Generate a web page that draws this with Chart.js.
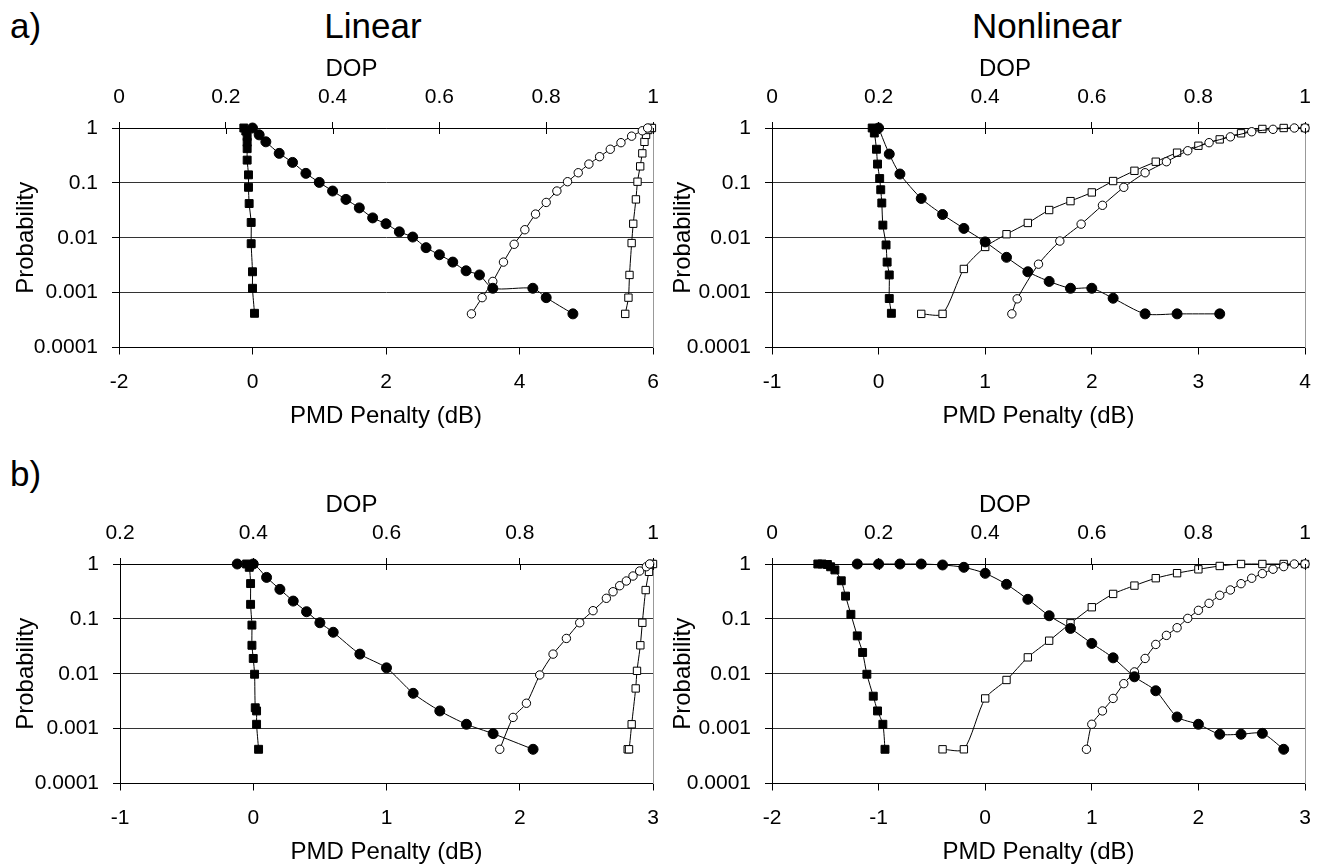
<!DOCTYPE html>
<html>
<head>
<meta charset="utf-8">
<title>PMD penalty and DOP probability</title>
<script src="https://cdn.jsdelivr.net/npm/chart.js@4.4.1/dist/chart.umd.min.js"></script>
<style>
html, body { margin: 0; padding: 0; background: #fff; overflow: hidden; width: 1327px; height: 864px; }
body { position: relative; font-family: "Liberation Sans", Arial, sans-serif; }
canvas { position: absolute; }
.lbl { position: absolute; font-size: 35px; line-height: 1; color: #000; white-space: nowrap; }
.ttl { width: 240px; text-align: center; }
</style>
</head>
<body>
<div class="lbl" style="left:10px;top:8px">a)</div>
<div class="lbl ttl" style="left:253px;top:8px">Linear</div>
<div class="lbl ttl" style="left:927px;top:8px">Nonlinear</div>
<div class="lbl" style="left:10px;top:456px">b)</div>

<canvas id="aLin" width="703" height="400" style="left:0;top:40px"></canvas>
<canvas id="aNl" width="680" height="400" style="left:665px;top:40px"></canvas>
<canvas id="bLin" width="703" height="400" style="left:0;top:476px"></canvas>
<canvas id="bNl" width="680" height="400" style="left:665px;top:476px"></canvas>

<script>
var FONT = '"Liberation Sans", Arial, sans-serif';
Chart.defaults.font.family = FONT;
Chart.defaults.color = '#000';

var probTicks = [0.0001, 0.001, 0.01, 0.1, 1];

// a) linear
var aLinPmdTicks = [-2, 0, 2, 4, 6];
var aLinDopTicks = [0, 0.2, 0.4, 0.6, 0.8, 1];
var aLinSqPmd = [-0.13, -0.1, -0.08, -0.08, -0.08, -0.08, -0.06, -0.06, -0.05, -0.02, -0.02, 0.0, 0.0, 0.03];
var aLinSqProb = [1, 0.88, 0.7, 0.55, 0.42, 0.26, 0.14, 0.083, 0.042, 0.019, 0.0078, 0.0024, 0.0012, 0.00042];
var aLinCircPmd = [0, 0.1, 0.2, 0.4, 0.6, 0.8, 1.0, 1.2, 1.4, 1.6, 1.8, 2.0, 2.2, 2.4, 2.6, 2.8, 3.0, 3.2, 3.4, 3.6, 4.2, 4.4, 4.8];
var aLinCircProb = [1, 0.75, 0.56, 0.345, 0.236, 0.149, 0.102, 0.071, 0.05, 0.035, 0.023, 0.018, 0.0128, 0.0103, 0.0066, 0.0049, 0.0036, 0.0025, 0.0021, 0.0012, 0.0012, 0.00081, 0.00041];
var aLinOpenCircDop = [0.66, 0.68, 0.70, 0.72, 0.74, 0.76, 0.78, 0.80, 0.82, 0.84, 0.86, 0.88, 0.90, 0.92, 0.94, 0.96, 0.98, 0.99];
var aLinOpenCircProb = [0.00041, 0.00081, 0.0016, 0.0036, 0.0076, 0.014, 0.027, 0.044, 0.071, 0.105, 0.153, 0.22, 0.3, 0.41, 0.54, 0.71, 0.89, 1];
var aLinOpenSqDop = [0.948, 0.954, 0.956, 0.960, 0.963, 0.968, 0.971, 0.976, 0.980, 0.984, 0.987, 0.991, 0.996, 0.998];
var aLinOpenSqProb = [0.00041, 0.00081, 0.0021, 0.008, 0.018, 0.05, 0.105, 0.2, 0.345, 0.56, 0.75, 0.92, 1, 1];

// a) nonlinear
var aNlPmdTicks = [-1, 0, 1, 2, 3, 4];
var aNlDopTicks = [0, 0.2, 0.4, 0.6, 0.8, 1];
var aNlSqPmd = [-0.06, -0.04, -0.02, -0.01, 0.01, 0.02, 0.03, 0.04, 0.07, 0.08, 0.10, 0.10, 0.12];
var aNlSqProb = [1, 0.81, 0.41, 0.22, 0.12, 0.075, 0.043, 0.017, 0.0074, 0.0036, 0.0021, 0.00078, 0.00042];
var aNlCircPmd = [0, 0.1, 0.2, 0.4, 0.6, 0.8, 1.0, 1.2, 1.4, 1.6, 1.8, 2.0, 2.2, 2.5, 2.8, 3.2];
var aNlCircProb = [1, 0.335, 0.145, 0.052, 0.0265, 0.0148, 0.0084, 0.0044, 0.0024, 0.0016, 0.0012, 0.0012, 0.00079, 0.00041, 0.00041, 0.00041];
var aNlOpenSqDop = [0.28, 0.32, 0.36, 0.40, 0.44, 0.48, 0.52, 0.56, 0.60, 0.64, 0.68, 0.72, 0.76, 0.80, 0.84, 0.88, 0.92, 0.96, 1.0];
var aNlOpenSqProb = [0.00041, 0.00041, 0.0027, 0.0068, 0.0116, 0.0186, 0.032, 0.0465, 0.067, 0.108, 0.166, 0.243, 0.355, 0.475, 0.62, 0.8, 0.96, 1, 1];
var aNlOpenCircDop = [0.45, 0.46, 0.50, 0.54, 0.58, 0.62, 0.66, 0.70, 0.74, 0.78, 0.82, 0.86, 0.90, 0.94, 0.98, 1.0];
var aNlOpenCircProb = [0.00041, 0.00077, 0.0033, 0.0087, 0.0177, 0.039, 0.083, 0.153, 0.243, 0.385, 0.54, 0.69, 0.855, 0.946, 1, 1];

// b) linear
var bLinPmdTicks = [-1, 0, 1, 2, 3];
var bLinDopTicks = [0.2, 0.4, 0.6, 0.8, 1];
var bLinSqPmd = [-0.05, -0.03, -0.02, -0.02, -0.01, -0.01, 0.0, 0.01, 0.015, 0.025, 0.025, 0.04];
var bLinSqProb = [1, 0.87, 0.44, 0.184, 0.077, 0.033, 0.019, 0.0098, 0.0024, 0.0021, 0.0012, 0.00042];
var bLinCircPmd = [-0.12, 0, 0.1, 0.2, 0.3, 0.4, 0.5, 0.6, 0.8, 1.0, 1.2, 1.4, 1.6, 1.8, 2.1];
var bLinCircProb = [1, 1, 0.57, 0.345, 0.211, 0.135, 0.085, 0.057, 0.0228, 0.0128, 0.0044, 0.0021, 0.0012, 0.00081, 0.00042];
var bLinOpenCircDop = [0.77, 0.79, 0.81, 0.83, 0.85, 0.87, 0.89, 0.91, 0.93, 0.94, 0.95, 0.96, 0.97, 0.98, 0.99, 0.995];
var bLinOpenCircProb = [0.00042, 0.0016, 0.0029, 0.0095, 0.0228, 0.044, 0.085, 0.141, 0.237, 0.312, 0.402, 0.49, 0.604, 0.745, 0.893, 1];
var bLinOpenSqDop = [0.962, 0.964, 0.968, 0.974, 0.976, 0.981, 0.984, 0.989, 0.994, 0.998, 1.0];
var bLinOpenSqProb = [0.00042, 0.00042, 0.0012, 0.0054, 0.0113, 0.033, 0.085, 0.335, 0.72, 1, 1];

// b) nonlinear
var bNlPmdTicks = [-2, -1, 0, 1, 2, 3];
var bNlDopTicks = [0, 0.2, 0.4, 0.6, 0.8, 1];
var bNlSqPmd = [-1.57, -1.53, -1.48, -1.45, -1.41, -1.35, -1.31, -1.26, -1.2, -1.15, -1.11, -1.05, -1.01, -0.96, -0.94];
var bNlSqProb = [1, 1, 0.98, 0.89, 0.78, 0.495, 0.26, 0.121, 0.049, 0.0244, 0.0098, 0.0039, 0.0021, 0.0012, 0.00042];
var bNlCircPmd = [-1.2, -1.0, -0.8, -0.6, -0.4, -0.2, 0, 0.2, 0.4, 0.6, 0.8, 1.0, 1.2, 1.4, 1.6, 1.8, 2.0, 2.2, 2.4, 2.6, 2.8];
var bNlCircProb = [1, 1, 1, 1, 0.96, 0.87, 0.676, 0.426, 0.227, 0.114, 0.067, 0.0357, 0.0195, 0.0088, 0.0049, 0.00163, 0.0012, 0.00079, 0.00079, 0.00082, 0.00042];
var bNlOpenSqDop = [0.32, 0.36, 0.40, 0.44, 0.48, 0.52, 0.56, 0.60, 0.64, 0.68, 0.72, 0.76, 0.80, 0.84, 0.88, 0.92, 0.96, 1.0];
var bNlOpenSqProb = [0.00042, 0.00042, 0.00355, 0.0077, 0.0199, 0.04, 0.083, 0.163, 0.285, 0.404, 0.551, 0.68, 0.8, 0.92, 1, 1, 1, 1];
var bNlOpenCircDop = [0.59, 0.60, 0.62, 0.64, 0.66, 0.68, 0.70, 0.72, 0.74, 0.76, 0.78, 0.80, 0.82, 0.84, 0.86, 0.88, 0.90, 0.92, 0.94, 0.96, 0.98, 1.0];
var bNlOpenCircProb = [0.00042, 0.0012, 0.0021, 0.00355, 0.0066, 0.0108, 0.019, 0.0342, 0.05, 0.069, 0.102, 0.143, 0.192, 0.269, 0.336, 0.438, 0.55, 0.668, 0.804, 0.897, 1, 1];

function pairs(xs, ys) {
    return xs.map(function (x, i) { return {x: x, y: ys[i]}; });
}

// filled square / filled circle go on the PMD axis, open ones on DOP
function series(kind, xs, ys) {
    var filled = kind === 'sq' || kind === 'circ';
    var square = kind === 'sq' || kind === 'openSq';
    var r = square ? (filled ? 5.6 : 5.2) : (filled ? 5 : 4.2);
    return {
        data: pairs(xs, ys),
        xAxisID: filled ? 'x' : 'x2',
        showLine: true,
        borderColor: '#000',
        borderWidth: 1,
        tension: 0.25,
        pointStyle: square ? 'rect' : 'circle',
        pointRadius: r,
        pointBackgroundColor: filled ? '#000' : '#fff',
        pointBorderColor: '#000',
        pointBorderWidth: 1,
        clip: false
    };
}

function fixedTicks(list) {
    return function (scale) {
        scale.ticks = list.map(function (v) { return {value: v}; });
    };
}

// the DOP ticks cross the top axis: this adds the half that points into the plot
var crossTicks = {
    id: 'crossTicks',
    afterDraw: function (chart) {
        var s = chart.scales.x2, ctx = chart.ctx, top = chart.chartArea.top;
        ctx.save();
        ctx.strokeStyle = '#000';
        ctx.lineWidth = 1;
        s.ticks.forEach(function (t) {
            var px = Math.round(s.getPixelForValue(t.value)) + 0.5;
            ctx.beginPath();
            ctx.moveTo(px, top);
            ctx.lineTo(px, top + 6);
            ctx.stroke();
        });
        ctx.restore();
    }
};

function makePanel(id, g, pmdTicks, dopTicks, datasets) {
    var tickFont = {family: FONT, size: 21};
    var titleFont = {family: FONT, size: 24, weight: 'normal'};
    new Chart(document.getElementById(id), {
        type: 'scatter',
        data: {datasets: datasets},
        plugins: [crossTicks],
        options: {
            responsive: false,
            animation: false,
            events: [],
            layout: {padding: 0},
            plugins: {
                legend: {display: false},
                tooltip: {enabled: false},
                title: {display: true, text: 'DOP', color: '#000', font: titleFont, padding: {top: 15, bottom: 0}}
            },
            scales: {
                x: {
                    type: 'linear', position: 'bottom',
                    min: pmdTicks[0], max: pmdTicks[pmdTicks.length - 1],
                    afterBuildTicks: fixedTicks(pmdTicks),
                    afterFit: function (s) { s.height = 92.5; },
                    grid: {drawOnChartArea: false, drawTicks: true, tickLength: 7, tickColor: '#000'},
                    border: {color: '#000', width: 1},
                    ticks: {color: '#000', font: tickFont, padding: 15, maxRotation: 0, autoSkip: false,
                        callback: function (v) { return String(v); }},
                    title: {display: true, text: 'PMD Penalty (dB)', color: '#000', font: titleFont, padding: {top: 0, bottom: 9}}
                },
                x2: {
                    type: 'linear', position: 'top',
                    min: dopTicks[0], max: dopTicks[dopTicks.length - 1],
                    afterBuildTicks: fixedTicks(dopTicks),
                    afterFit: function (s) { s.height = 44.2; },
                    grid: {drawOnChartArea: false, drawTicks: true, tickLength: 6, tickColor: '#000'},
                    border: {color: '#000', width: 1},
                    ticks: {color: '#000', font: tickFont, padding: 12, maxRotation: 0, autoSkip: false,
                        callback: function (v) { return String(v); }}
                },
                y: {
                    type: 'logarithmic', position: 'left',
                    min: probTicks[0], max: probTicks[probTicks.length - 1],
                    afterBuildTicks: fixedTicks(probTicks),
                    afterFit: function (s) { s.width = g.yWidth; },
                    grid: {color: '#333', lineWidth: 1, drawTicks: true, tickLength: 7, tickColor: '#000'},
                    border: {color: '#000', width: 1},
                    ticks: {color: '#000', font: tickFont, padding: 14,
                        callback: function (v) { return String(v); }},
                    title: {display: true, text: 'Probability', color: '#000', font: titleFont, padding: {top: g.probPad, bottom: 0}}
                },
                y2: {
                    type: 'linear', position: 'right',
                    afterFit: function (s) { s.width = g.y2Width; },
                    grid: {drawOnChartArea: false, drawTicks: false},
                    border: {color: '#999', width: 1},
                    ticks: {display: false}
                }
            }
        }
    });
}

var leftGeom = {yWidth: 119, y2Width: 50, probPad: 12};
var rightGeom = {yWidth: 107, y2Width: 40, probPad: 4};

makePanel('aLin', leftGeom, aLinPmdTicks, aLinDopTicks, [
    series('sq', aLinSqPmd, aLinSqProb),
    series('circ', aLinCircPmd, aLinCircProb),
    series('openCirc', aLinOpenCircDop, aLinOpenCircProb),
    series('openSq', aLinOpenSqDop, aLinOpenSqProb)
]);
makePanel('aNl', rightGeom, aNlPmdTicks, aNlDopTicks, [
    series('sq', aNlSqPmd, aNlSqProb),
    series('circ', aNlCircPmd, aNlCircProb),
    series('openCirc', aNlOpenCircDop, aNlOpenCircProb),
    series('openSq', aNlOpenSqDop, aNlOpenSqProb)
]);
makePanel('bLin', {yWidth: 120, y2Width: 50, probPad: 12}, bLinPmdTicks, bLinDopTicks, [
    series('sq', bLinSqPmd, bLinSqProb),
    series('circ', bLinCircPmd, bLinCircProb),
    series('openCirc', bLinOpenCircDop, bLinOpenCircProb),
    series('openSq', bLinOpenSqDop, bLinOpenSqProb)
]);
makePanel('bNl', rightGeom, bNlPmdTicks, bNlDopTicks, [
    series('sq', bNlSqPmd, bNlSqProb),
    series('circ', bNlCircPmd, bNlCircProb),
    series('openCirc', bNlOpenCircDop, bNlOpenCircProb),
    series('openSq', bNlOpenSqDop, bNlOpenSqProb)
]);
</script>
</body>
</html>
